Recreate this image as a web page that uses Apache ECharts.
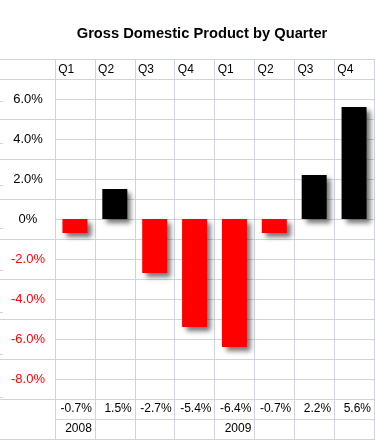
<!DOCTYPE html>
<html>
<head>
<meta charset="utf-8">
<script src="https://cdn.jsdelivr.net/npm/echarts@6/dist/echarts.min.js"></script>
<style>
html,body{margin:0;padding:0;background:#fff;}
#chart{width:375px;height:440px;}
</style>
</head>
<body>
<div id="chart"></div>
<script>
// ---- data ----
var quarters = ['Q1', 'Q2', 'Q3', 'Q4', 'Q1', 'Q2', 'Q3', 'Q4'];
var gdp = [-0.7, 1.5, -2.7, -5.4, -6.4, -0.7, 2.2, 5.6];
var years = ['2008', '', '', '', '2009', '', '', ''];
var yLabelValues = [-8, -6, -4, -2, 0, 2, 4, 6];
var titleText = 'Gross Domestic Product by Quarter';

// ---- chart ----
var FONT = "Arial, 'Liberation Sans', sans-serif";
var GRID_COLOR = '#cfd3df';
var chart = echarts.init(document.getElementById('chart'), null, {renderer: 'canvas'});

function fmtPct(v) { return v === 0 ? '0%' : v.toFixed(1) + '%'; }

var n = quarters.length;
var qPos = quarters.map(function (q, i) { return i + 0.08; });
var valPos = gdp.map(function (v, i) { return i + 0.925; });
var yearPos = [];
years.forEach(function (y, i) { if (y) yearPos.push(i + 0.925); });

var option = {
  animation: false,
  backgroundColor: '#fff',
  title: {
    text: titleText,
    left: 197,
    top: 21,
    textAlign: 'center',
    textStyle: {fontFamily: FONT, fontSize: 14.7, fontWeight: 'bold', color: '#000'}
  },
  grid: [
    {left: 55, top: 59, width: 319, height: 380, containLabel: false}, // main columns
    {left: 0, top: 59, width: 375, height: 380}, // full width rows
    {left: 0, top: 59, width: 55, height: 380}   // left label column
  ],
  xAxis: [
    { // 0: bars
      type: 'category', gridIndex: 0, data: quarters, boundaryGap: true,
      axisLine: {show: false}, axisTick: {show: false}, axisLabel: {show: false},
      splitLine: {show: true, interval: 0, lineStyle: {color: GRID_COLOR, width: 1}}
    },
    { // 1: quarter labels (top row)
      type: 'value', gridIndex: 0, min: 0, max: n, position: 'top',
      axisLine: {show: false}, axisTick: {show: false}, splitLine: {show: false},
      axisLabel: {
        show: true, inside: true, margin: 11, customValues: qPos,
        align: 'left', verticalAlign: 'middle',
        fontFamily: FONT, fontSize: 12, color: '#000',
        formatter: function (v) { return quarters[Math.floor(v)]; }
      }
    },
    { // 2: value labels row
      type: 'value', gridIndex: 0, min: 0, max: n, position: 'bottom',
      axisLine: {show: false}, axisTick: {show: false}, splitLine: {show: false},
      axisLabel: {
        show: true, inside: true, margin: 30, customValues: valPos,
        align: 'right', verticalAlign: 'middle',
        fontFamily: FONT, fontSize: 12, color: '#000',
        formatter: function (v) { return fmtPct(gdp[Math.floor(v)]); }
      }
    },
    { // 3: year labels row
      type: 'value', gridIndex: 0, min: 0, max: n, position: 'bottom',
      axisLine: {show: false}, axisTick: {show: false}, splitLine: {show: false},
      axisLabel: {
        show: true, inside: true, margin: 10, customValues: yearPos,
        align: 'right', verticalAlign: 'middle',
        fontFamily: FONT, fontSize: 12, color: '#000',
        formatter: function (v) { return years[Math.floor(v)]; }
      }
    },
    {type: 'value', gridIndex: 1, min: 0, max: 1, show: false},
    {type: 'value', gridIndex: 2, min: 0, max: 1, show: false}
  ],
  yAxis: [
    { // main y axis
      type: 'value', gridIndex: 0, min: -11, max: 8, interval: 1,
      axisLine: {show: false}, axisTick: {show: false},
      splitLine: {show: true, lineStyle: {color: GRID_COLOR, width: 1}},
      axisLabel: {
        show: true, margin: 27, align: 'center',
        fontFamily: FONT, fontSize: 13,
        formatter: function (v) {
          return yLabelValues.indexOf(v) >= 0 ? fmtPct(v) : '';
        },
        color: function (v) { return v < 0 ? '#ff0000' : '#000'; }
      }
    },
    { // full-width row lines
      type: 'value', gridIndex: 1, min: -11, max: 8, interval: 2,
      axisLine: {show: false}, axisTick: {show: false}, axisLabel: {show: false},
      splitLine: {show: true, lineStyle: {color: GRID_COLOR, width: 1}}
    },
    { // left column bottom line and edge ticks
      type: 'value', gridIndex: 2, min: -10, max: 8, interval: 2,
      axisLine: {show: false},
      axisTick: {show: true, inside: true, length: 3, lineStyle: {color: GRID_COLOR}},
      axisLabel: {show: false},
      splitLine: {show: true, lineStyle: {
        color: [GRID_COLOR, 'transparent', 'transparent', 'transparent', 'transparent',
                'transparent', 'transparent', 'transparent', 'transparent', 'transparent'],
        width: 1}}
    }
  ],
  series: [{
    type: 'bar',
    xAxisIndex: 0, yAxisIndex: 0,
    barWidth: 25,
    data: gdp.map(function (v) {
      return {value: v, itemStyle: {color: v < 0 ? '#ff0000' : '#000000'}};
    }),
    itemStyle: {
      shadowColor: 'rgba(0,0,0,0.55)',
      shadowBlur: 5,
      shadowOffsetX: 4,
      shadowOffsetY: 4
    }
  }]
};
chart.setOption(option);
</script>
</body>
</html>
